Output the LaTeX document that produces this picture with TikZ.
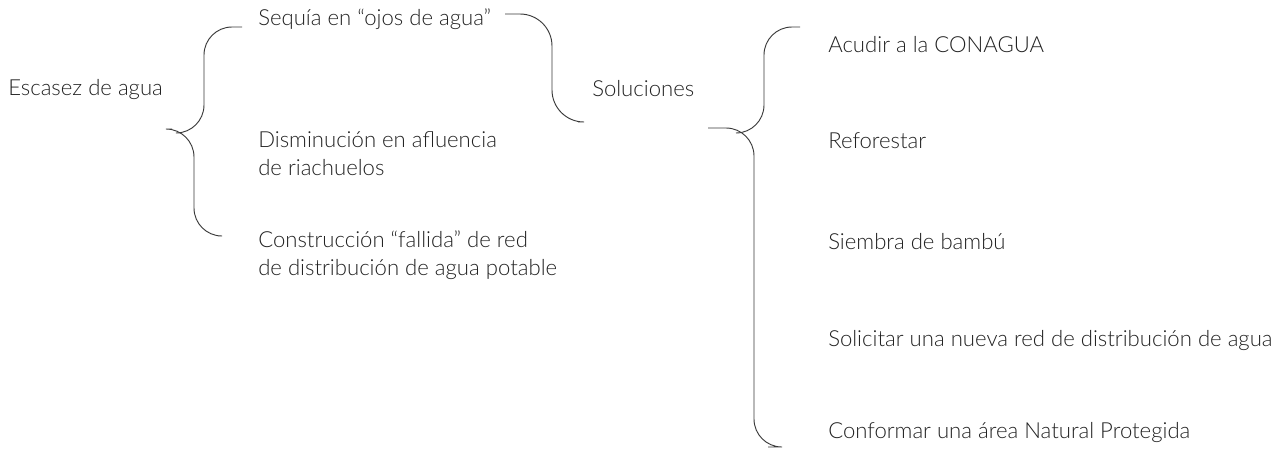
\documentclass[tikz,border=0pt]{standalone}
\usepackage{fontspec}
\setmainfont{Lato}[UprightFont=* Light]
\definecolor{txtgray}{HTML}{222222}
\definecolor{linegray}{HTML}{3A3A3A}
\tikzset{
    item/.style={anchor=west,align=left,inner sep=0pt,text=txtgray,font=\fontsize{16.6}{21}\selectfont},
    brace/.style={draw=linegray,line width=0.7pt,rounded corners=21pt}
}
\begin{document}
\begin{tikzpicture}[x=0.75pt,y=-0.75pt]
    \useasboundingbox (0,0) rectangle (1279,454);

    \node [item] (esc) at (8,89) {Escasez de agua};
    \node [item] (seq) at (258,19) {Sequía en “ojos de agua”};
    \node [item] (dis) at (258,154) {Disminución en afluencia\\de riachuelos};
    \node [item] (con) at (258,255) {Construcción “fallida” de red\\de distribución de agua potable};
    \node [item] (sol) at (592,89) {Soluciones};
    \node [item] (acu) at (828,45) {Acudir a la CONAGUA};
    \node [item] (ref) at (828,141) {Reforestar};
    \node [item] (sie) at (828,242) {Siembra de bambú};
    \node [item] (nue) at (828,340) {Solicitar una nueva red de distribución de agua};
    \node [item] (are) at (828,432) {Conformar una área Natural Protegida};

    \coordinate (a1) at (242,27);
    \coordinate (a2) at (179,133);
    \coordinate (b1) at (172,129);
    \coordinate (b2) at (218,236);
    \coordinate (c1) at (505,14);
    \coordinate (c2) at (578,122);
    \coordinate (d1) at (800,27);
    \coordinate (d2) at (738,133);
    \coordinate (e1) at (708,128);
    \coordinate (e2) at (768,447);

    \draw [brace] (a1) -- (204,27) -- (204,133) -- (a2);
    \draw [brace] (b1) -- (194,129) -- (194,236) -- (b2);
    \draw [brace,rounded corners=24pt] (c1) -- (552,14) -- (552,122) -- (c2);
    \draw [brace] (d1) -- (764,27) -- (764,133) -- (d2);
    \draw [brace] (e1) -- (754,128) -- (754,447) -- (e2);
\end{tikzpicture}
\end{document}
